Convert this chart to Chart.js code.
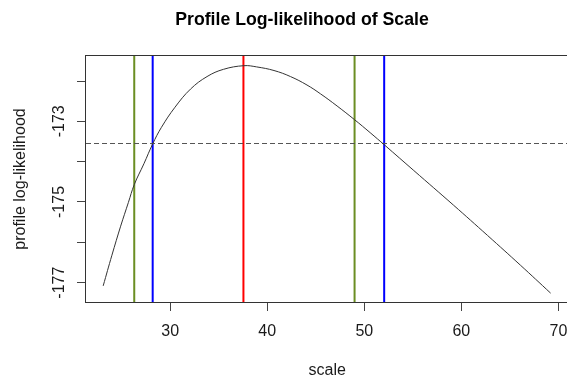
<!DOCTYPE html>
<html>
<head>
<meta charset="utf-8">
<script src="https://cdn.jsdelivr.net/npm/chart.js@4"></script>
<style>
  html, body { margin: 0; padding: 0; background: #fff; overflow: hidden; }
  #wrap { width: 567px; height: 380px; overflow: hidden; position: relative; }
  #wrap canvas { position: absolute; left: 0; top: 0; }
</style>
</head>
<body>
<div id="wrap"><canvas id="c" width="600" height="380" style="width:600px;height:380px"></canvas></div>
<script>
// Profile log-likelihood of the scale parameter
const scaleGrid = [23.1, 24.0, 24.9, 25.7, 26.3, 27.3, 28.2, 29.1, 30.5, 32.1, 33.8, 35.5, 37.6, 38.9,
                   40.7, 42.4, 44.1, 45.5, 47.2, 49.0, 50.6, 52.1, 55.1, 59.2, 62.7, 66.1, 69.2];
const profileLL = [-177.08, -176.32, -175.60, -175.01, -174.57, -174.05, -173.56, -173.15, -172.65,
                   -172.20, -171.89, -171.71, -171.62, -171.65, -171.74, -171.89, -172.10, -172.32,
                   -172.62, -172.96, -173.28, -173.59, -174.22, -175.08, -175.83, -176.57, -177.26];

// Maximum likelihood estimate, likelihood-ratio cutoff and the two intervals
const mleScale = 37.55;
const cutoffLL = -173.55;
const waldCI = [26.3, 49.0];
const profileCI = [28.2, 52.05];

// Axis ranges and ticks
const xRange = [21.33, 71.04];
const yRange = [-177.48, -171.38];
const xTicks = [30, 40, 50, 60, 70];
const yTicks = [-177, -176, -175, -174, -173, -172];
const yTickLabels = ['-177', '', '-175', '', '-173', ''];

const FONT = "'Liberation Sans', Arial, Helvetica, sans-serif";
const INK = '#1a1a1a';

function vline(x, color) {
  return {
    data: [{ x: x, y: yRange[0] }, { x: x, y: yRange[1] }],
    borderColor: color, borderWidth: 2, pointRadius: 0, showLine: true
  };
}

// Frame box, main title and rotated y tick labels
const decorPlugin = {
  id: 'decor',
  afterDraw(chart) {
    const { ctx, chartArea: a, scales } = chart;
    ctx.save();
    ctx.strokeStyle = '#333';
    ctx.lineWidth = 1;
    ctx.strokeRect(a.left - 0.5, a.top - 0.5, a.right - a.left + 1, a.bottom - a.top + 1);

    ctx.fillStyle = '#000';
    ctx.font = 'bold 17.7px ' + FONT;
    ctx.textAlign = 'center';
    ctx.textBaseline = 'alphabetic';
    ctx.fillText('Profile Log-likelihood of Scale', 302, 25);

    ctx.font = '16px ' + FONT;
    ctx.fillStyle = INK;
    const ys = scales.y;
    yTicks.forEach((v, i) => {
      const lab = yTickLabels[i];
      if (!lab) return;
      const py = ys.getPixelForValue(v);
      ctx.save();
      ctx.translate(a.left - 22, py);
      ctx.rotate(-Math.PI / 2);
      ctx.textAlign = 'center';
      ctx.textBaseline = 'alphabetic';
      ctx.fillText(lab, 0, 0);
      ctx.restore();
    });
    ctx.restore();
  }
};

new Chart(document.getElementById('c'), {
  type: 'scatter',
  data: {
    datasets: [
      {
        data: scaleGrid.map((x, i) => ({ x: x, y: profileLL[i] })),
        showLine: true, borderColor: '#333', borderWidth: 1, pointRadius: 0,
        tension: 0.4
      },
      {
        data: [{ x: xRange[0], y: cutoffLL }, { x: xRange[1], y: cutoffLL }],
        showLine: true, borderColor: '#555', borderWidth: 1, borderDash: [5, 3], pointRadius: 0
      },
      vline(waldCI[0], '#6B8E23'),
      vline(waldCI[1], '#6B8E23'),
      vline(profileCI[0], '#0000FF'),
      vline(profileCI[1], '#0000FF'),
      vline(mleScale, '#FF0000')
    ]
  },
  options: {
    responsive: false,
    animation: false,
    layout: { padding: { top: 56, left: 0, right: 31.5, bottom: 0 } },
    plugins: { legend: { display: false }, tooltip: { enabled: false }, title: { display: false } },
    scales: {
      x: {
        type: 'linear', min: xRange[0], max: xRange[1],
        afterBuildTicks: s => { s.ticks = xTicks.map(v => ({ value: v })); },
        afterFit: s => { s.height = 78; s.paddingLeft = 0; s.paddingRight = 0; },
        grid: { drawOnChartArea: false, drawTicks: true, tickLength: 9, color: '#444', tickColor: '#444' },
        border: { display: false },
        ticks: { color: INK, font: { family: FONT, size: 16 }, padding: 11, maxRotation: 0, autoSkip: false },
        title: { display: true, text: 'scale', color: INK, font: { family: FONT, size: 16 }, padding: { top: 0, bottom: 0 } }
      },
      y: {
        type: 'linear', min: yRange[0], max: yRange[1],
        afterBuildTicks: s => { s.ticks = yTicks.map(v => ({ value: v })); },
        afterFit: s => { s.width = 86; s.paddingTop = 0; s.paddingBottom = 0; },
        grid: { drawOnChartArea: false, drawTicks: true, tickLength: 9, color: '#444', tickColor: '#444' },
        border: { display: false },
        ticks: { display: false },
        title: { display: true, text: 'profile log-likelihood', color: INK, font: { family: FONT, size: 16 }, padding: { top: 11, bottom: 0 } }
      }
    }
  },
  plugins: [decorPlugin]
});
</script>
</body>
</html>
